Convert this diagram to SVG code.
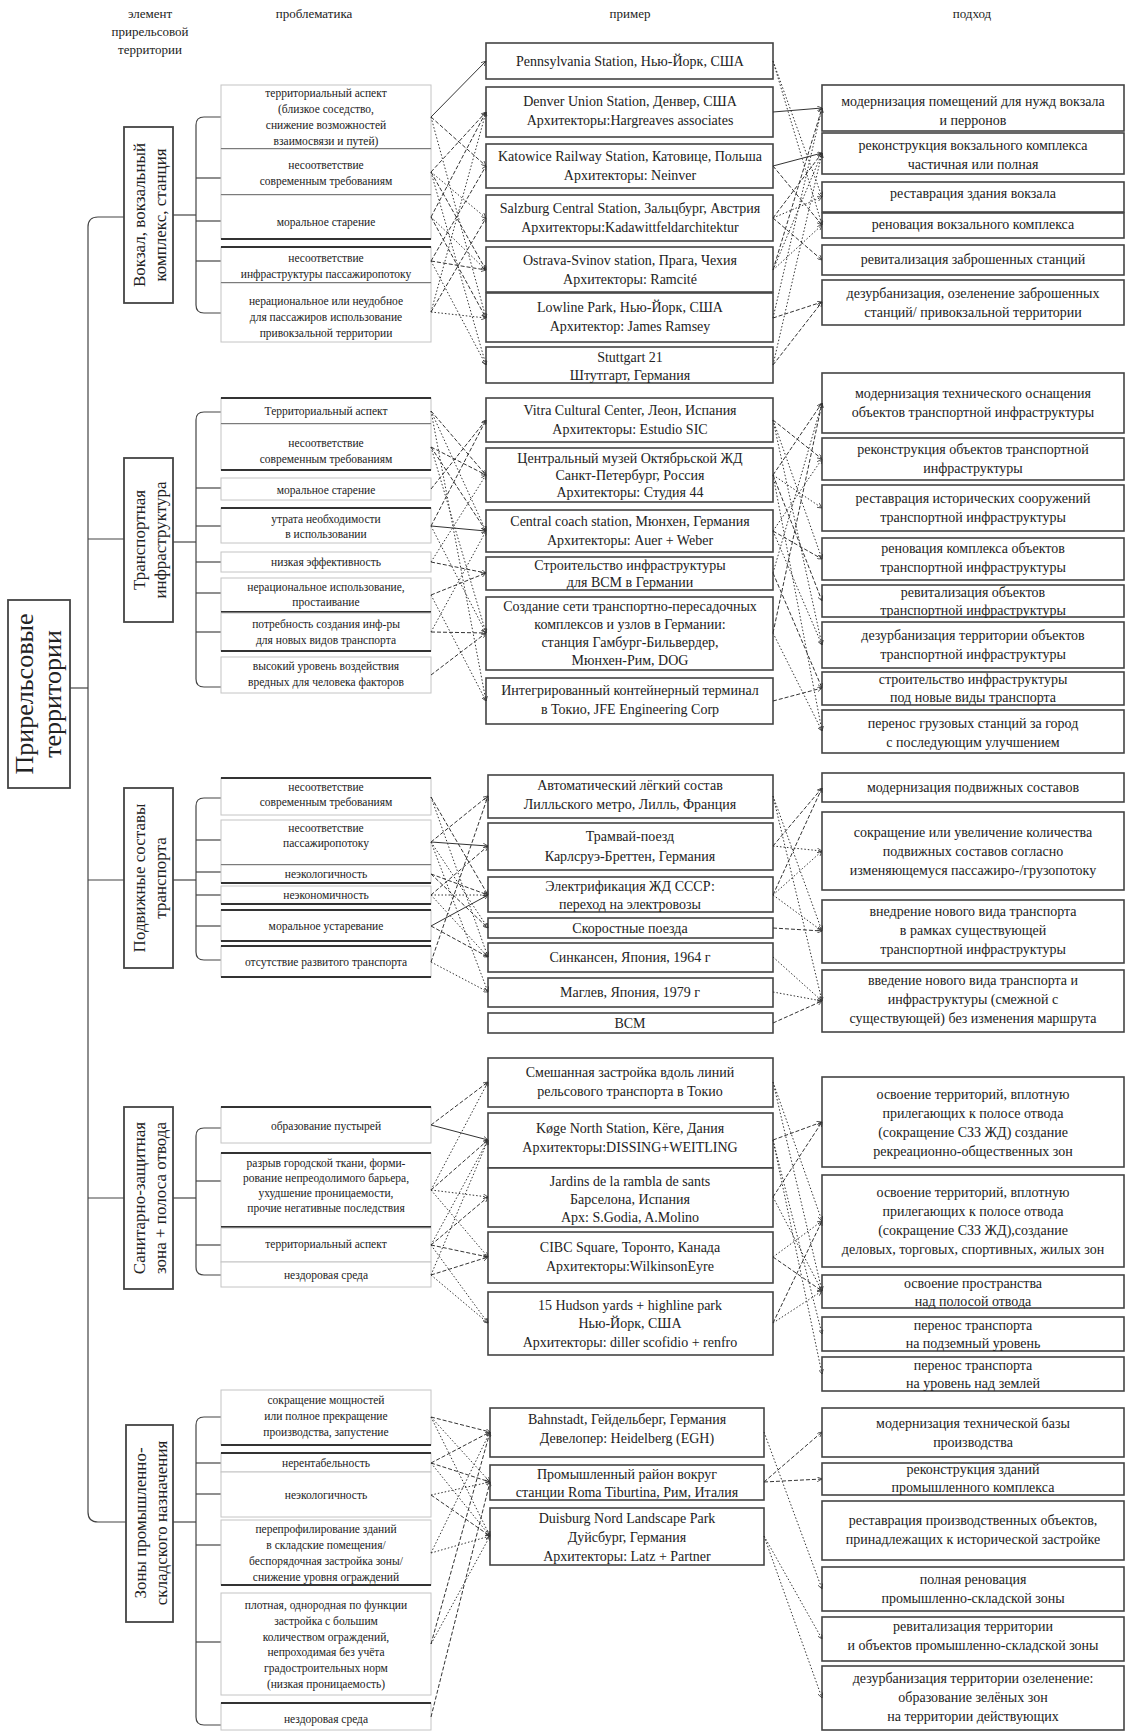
<svg xmlns="http://www.w3.org/2000/svg" width="1128" height="1731" viewBox="0 0 1128 1731">
<style>
text{font-family:"Liberation Serif","DejaVu Serif",serif;fill:#222;text-anchor:middle}
.h{font-size:13px}
.p{font-size:11.5px}
.e{font-size:14px}
.a{font-size:14px}
.cat{font-size:17px}
.ttl{font-size:26px}
.pb{fill:#fff;stroke:#c4c4c4;stroke-width:1}
.sep{stroke:#333;stroke-width:2}
.bx{fill:#fff;stroke:#444;stroke-width:1.6}
.cb{fill:#fff;stroke:#444;stroke-width:1.8}
.br{fill:none;stroke:#444;stroke-width:1.2}
.s{stroke:#333;stroke-width:1;fill:none;marker-end:url(#ar)}
.d{stroke:#333;stroke-width:1;fill:none;stroke-dasharray:4 2;marker-end:url(#ar)}
.o{stroke:#333;stroke-width:1;fill:none;stroke-dasharray:1.5 2;marker-end:url(#ar)}
</style>
<defs>
<marker id="ar" viewBox="0 0 8 8" refX="8" refY="4" markerWidth="5" markerHeight="5" orient="auto">
<path d="M0,0 L8,4 L0,8" fill="none" stroke="#333" stroke-width="1.2"/>
</marker>
</defs>
<rect width="1128" height="1731" fill="#fff"/>

<g id="headers">
<text class="h" x="150" y="18">элемент</text>
<text class="h" x="150" y="36">прирельсовой</text>
<text class="h" x="150" y="54">территории</text>
<text class="h" x="314" y="18">проблематика</text>
<text class="h" x="630" y="18">пример</text>
<text class="h" x="972" y="18">подход</text>
</g>

<g id="title">
<rect class="cb" x="8" y="600" width="62" height="188"/>
<text class="ttl" transform="translate(33,694) rotate(-90)">Прирельсовые</text>
<text class="ttl" transform="translate(61,694) rotate(-90)">территории</text>
</g>

<g id="tree" class="br">
<line x1="70" y1="688" x2="88" y2="688"/>
<path d="M124,217 L98,217 Q88,217 88,227 L88,1512 Q88,1522 98,1522 L126,1522"/>
<line x1="88" y1="539" x2="124" y2="539"/>
<line x1="88" y1="880" x2="124" y2="880"/>
<line x1="88" y1="1198" x2="124" y2="1198"/>
<line x1="173" y1="215" x2="196" y2="215"/>
<path d="M221,117 L204,117 Q196,117 196,125 L196,305 Q196,313 204,313 L221,313"/>
<line x1="196" y1="178" x2="221" y2="178"/>
<line x1="196" y1="221" x2="221" y2="221"/>
<line x1="196" y1="261" x2="221" y2="261"/>
<line x1="173" y1="542" x2="196" y2="542"/>
<path d="M221,412 L204,412 Q196,412 196,420 L196,679 Q196,687 204,687 L221,687"/>
<line x1="196" y1="488" x2="221" y2="488"/>
<line x1="196" y1="526" x2="221" y2="526"/>
<line x1="196" y1="562" x2="221" y2="562"/>
<line x1="196" y1="593" x2="221" y2="593"/>
<line x1="196" y1="632" x2="221" y2="632"/>
<line x1="173" y1="880" x2="196" y2="880"/>
<path d="M221,798 L204,798 Q196,798 196,806 L196,952 Q196,960 204,960 L221,960"/>
<line x1="196" y1="840" x2="221" y2="840"/>
<line x1="196" y1="872" x2="221" y2="872"/>
<line x1="196" y1="895" x2="221" y2="895"/>
<line x1="196" y1="926" x2="221" y2="926"/>
<line x1="173" y1="1198" x2="196" y2="1198"/>
<path d="M221,1128 L204,1128 Q196,1128 196,1136 L196,1267 Q196,1275 204,1275 L221,1275"/>
<line x1="196" y1="1181" x2="221" y2="1181"/>
<line x1="196" y1="1245" x2="221" y2="1245"/>
<line x1="173" y1="1522" x2="196" y2="1522"/>
<path d="M221,1417 L204,1417 Q196,1417 196,1425 L196,1717 Q196,1725 204,1725 L221,1725"/>
<line x1="196" y1="1463" x2="221" y2="1463"/>
<line x1="196" y1="1494" x2="221" y2="1494"/>
<line x1="196" y1="1545" x2="221" y2="1545"/>
<line x1="196" y1="1642" x2="221" y2="1642"/>
</g>

<g id="cat1"><rect class="cb" x="124" y="127" width="49" height="176"/>
<text class="cat" transform="translate(145,215) rotate(-90)">Вокзал, вокзальный</text>
<text class="cat" transform="translate(166,215) rotate(-90)">комплекс, станция</text></g>
<g id="cat2"><rect class="cb" x="124" y="458" width="49" height="164"/>
<text class="cat" transform="translate(145,540) rotate(-90)">Транспортная</text>
<text class="cat" transform="translate(166,540) rotate(-90)">инфраструктура</text></g>
<g id="cat3"><rect class="cb" x="124" y="788" width="49" height="180"/>
<text class="cat" transform="translate(145,878) rotate(-90)">Подвижные составы</text>
<text class="cat" transform="translate(166,878) rotate(-90)">транспорта</text></g>
<g id="cat4"><rect class="cb" x="124" y="1107" width="49" height="182"/>
<text class="cat" transform="translate(145,1198) rotate(-90)">Санитарно-защитная</text>
<text class="cat" transform="translate(166,1198) rotate(-90)">зона + полоса отвода</text></g>
<g id="cat5"><rect class="cb" x="126" y="1425" width="47" height="197"/>
<text class="cat" transform="translate(146,1523) rotate(-90)">Зоны промышленно-</text>
<text class="cat" transform="translate(167,1523) rotate(-90)">складского назначения</text></g>

<g id="p1"><rect class="pb" x="221" y="85" width="210" height="64"/><line class="sep" x1="221" y1="149" x2="431" y2="149"/>
<text class="p" x="326" y="97">территориальный аспект</text><text class="p" x="326" y="113">(близкое соседство,</text><text class="p" x="326" y="129">снижение возможностей</text><text class="p" x="326" y="145">взаимосвязи и путей)</text></g>
<g id="p2"><rect class="pb" x="221" y="149" width="210" height="46"/><line class="sep" x1="221" y1="195" x2="431" y2="195"/>
<text class="p" x="326" y="169">несоответствие</text><text class="p" x="326" y="185">современным требованиям</text></g>
<g id="p3"><rect class="pb" x="221" y="195" width="210" height="44"/><line class="sep" x1="221" y1="239" x2="431" y2="239"/>
<text class="p" x="326" y="226">моральное старение</text></g>
<g id="p4"><rect class="pb" x="221" y="247" width="210" height="36"/><line class="sep" x1="221" y1="247" x2="431" y2="247"/><line class="sep" x1="221" y1="283" x2="431" y2="283"/>
<text class="p" x="326" y="262">несоответствие</text><text class="p" x="326" y="278">инфраструктуры пассажиропотоку</text></g>
<g id="p5"><rect class="pb" x="221" y="283" width="210" height="59"/>
<text class="p" x="326" y="305">нерациональное или неудобное</text><text class="p" x="326" y="321">для пассажиров использование</text><text class="p" x="326" y="337">привокзальной территории</text></g>

<g id="q1"><rect class="pb" x="221" y="398" width="210" height="26"/><line class="sep" x1="221" y1="398" x2="431" y2="398"/><line class="sep" x1="221" y1="424" x2="431" y2="424"/>
<text class="p" x="326" y="415">Территориальный аспект</text></g>
<g id="q2"><rect class="pb" x="221" y="424" width="210" height="46"/><line class="sep" x1="221" y1="470" x2="431" y2="470"/>
<text class="p" x="326" y="447">несоответствие</text><text class="p" x="326" y="463">современным требованиям</text></g>
<g id="q3"><rect class="pb" x="221" y="478" width="210" height="22"/>
<text class="p" x="326" y="494">моральное старение</text></g>
<g id="q4"><rect class="pb" x="221" y="508" width="210" height="35"/><line class="sep" x1="221" y1="508" x2="431" y2="508"/>
<text class="p" x="326" y="523">утрата необходимости</text><text class="p" x="326" y="538">в использовании</text></g>
<g id="q5"><rect class="pb" x="221" y="552" width="210" height="20"/>
<text class="p" x="326" y="566">низкая эффективность</text></g>
<g id="q6"><rect class="pb" x="221" y="578" width="210" height="34"/><line class="sep" x1="221" y1="612" x2="431" y2="612"/>
<text class="p" x="326" y="591">нерациональное использование,</text><text class="p" x="326" y="606">простаивание</text></g>
<g id="q7"><rect class="pb" x="221" y="613" width="210" height="38"/><line class="sep" x1="221" y1="651" x2="431" y2="651"/>
<text class="p" x="326" y="628">потребность создания инф-ры</text><text class="p" x="326" y="644">для новых видов транспорта</text></g>
<g id="q8"><rect class="pb" x="221" y="657" width="210" height="36"/>
<text class="p" x="326" y="670">высокий уровень воздействия</text><text class="p" x="326" y="686">вредных для человека факторов</text></g>

<g id="r1"><rect class="pb" x="221" y="778" width="210" height="37"/><line class="sep" x1="221" y1="778" x2="431" y2="778"/>
<text class="p" x="326" y="791">несоответствие</text><text class="p" x="326" y="806">современным требованиям</text></g>
<g id="r2"><rect class="pb" x="221" y="820" width="210" height="45"/><line class="sep" x1="221" y1="865" x2="431" y2="865"/>
<text class="p" x="326" y="832">несоответствие</text><text class="p" x="326" y="847">пассажиропотоку</text></g>
<g id="r3"><rect class="pb" x="221" y="865" width="210" height="18"/><line class="sep" x1="221" y1="883" x2="431" y2="883"/>
<text class="p" x="326" y="878">неэкологичность</text></g>
<g id="r4"><rect class="pb" x="221" y="886" width="210" height="18"/><line class="sep" x1="221" y1="904" x2="431" y2="904"/>
<text class="p" x="326" y="899">неэкономичность</text></g>
<g id="r5"><rect class="pb" x="221" y="910" width="210" height="31"/><line class="sep" x1="221" y1="910" x2="431" y2="910"/><line class="sep" x1="221" y1="941" x2="431" y2="941"/>
<text class="p" x="326" y="930">моральное устаревание</text></g>
<g id="r6"><rect class="pb" x="221" y="946" width="210" height="31"/><line class="sep" x1="221" y1="946" x2="431" y2="946"/><line class="sep" x1="221" y1="977" x2="431" y2="977"/>
<text class="p" x="326" y="966">отсутствие развитого транспорта</text></g>

<g id="s1"><rect class="pb" x="221" y="1107" width="210" height="36"/><line class="sep" x1="221" y1="1107" x2="431" y2="1107"/>
<text class="p" x="326" y="1130">образование пустырей</text></g>
<g id="s2"><rect class="pb" x="221" y="1153" width="210" height="74"/><line class="sep" x1="221" y1="1153" x2="431" y2="1153"/><line class="sep" x1="221" y1="1227" x2="431" y2="1227"/>
<text class="p" x="326" y="1167">разрыв городской ткани, форми-</text><text class="p" x="326" y="1182">рование непреодолимого барьера,</text><text class="p" x="326" y="1197">ухудшение проницаемости,</text><text class="p" x="326" y="1212">прочие негативные последствия</text></g>
<g id="s3"><rect class="pb" x="221" y="1228" width="210" height="34"/>
<text class="p" x="326" y="1248">территориальный аспект</text></g>
<g id="s4"><rect class="pb" x="221" y="1262" width="210" height="25"/>
<text class="p" x="326" y="1279">нездоровая среда</text></g>

<g id="t1"><rect class="pb" x="221" y="1390" width="210" height="55"/><line class="sep" x1="221" y1="1445" x2="431" y2="1445"/>
<text class="p" x="326" y="1404">сокращение мощностей</text><text class="p" x="326" y="1420">или полное прекращение</text><text class="p" x="326" y="1436">производства, запустение</text></g>
<g id="t2"><rect class="pb" x="221" y="1453" width="210" height="19"/><line class="sep" x1="221" y1="1453" x2="431" y2="1453"/>
<text class="p" x="326" y="1467">нерентабельность</text></g>
<g id="t3"><rect class="pb" x="221" y="1472" width="210" height="45"/>
<text class="p" x="326" y="1499">неэкологичность</text></g>
<g id="t4"><rect class="pb" x="221" y="1520" width="210" height="65"/><line class="sep" x1="221" y1="1585" x2="431" y2="1585"/>
<text class="p" x="326" y="1533">перепрофилирование зданий</text><text class="p" x="326" y="1549">в складские помещения/</text><text class="p" x="326" y="1565">беспорядочная застройка зоны/</text><text class="p" x="326" y="1581">снижение уровня ограждений</text></g>
<g id="t5"><rect class="pb" x="221" y="1593" width="210" height="102"/>
<text class="p" x="326" y="1609">плотная, однородная по функции</text><text class="p" x="326" y="1625">застройка с большим</text><text class="p" x="326" y="1641">количеством ограждений,</text><text class="p" x="326" y="1656">непроходимая без учёта</text><text class="p" x="326" y="1672">градостроительных норм</text><text class="p" x="326" y="1688">(низкая проницаемость)</text></g>
<g id="t6"><rect class="pb" x="221" y="1703" width="210" height="27"/><line class="sep" x1="221" y1="1703" x2="431" y2="1703"/>
<text class="p" x="326" y="1723">нездоровая среда</text></g>

<g id="e1"><rect class="bx" x="486" y="43" width="287" height="36"/><text class="e" x="630" y="66">Pennsylvania Station, Нью-Йорк, США</text></g>
<g id="e2"><rect class="bx" x="486" y="87" width="287" height="50"/><text class="e" x="630" y="106">Denver Union Station, Денвер, США</text><text class="e" x="630" y="125">Архитекторы:Hargreaves associates</text></g>
<g id="e3"><rect class="bx" x="486" y="144" width="287" height="44"/><text class="e" x="630" y="161">Katowice Railway Station, Катовице, Польша</text><text class="e" x="630" y="180">Архитекторы: Neinver</text></g>
<g id="e4"><rect class="bx" x="486" y="195" width="287" height="46"/><text class="e" x="630" y="213">Salzburg Central Station, Зальцбург, Австрия</text><text class="e" x="630" y="232">Архитекторы:Kadawittfeldarchitektur</text></g>
<g id="e5"><rect class="bx" x="486" y="247" width="287" height="45"/><text class="e" x="630" y="265">Ostrava-Svinov station, Прага, Чехия</text><text class="e" x="630" y="284">Архитекторы: Ramcité</text></g>
<g id="e6"><rect class="bx" x="486" y="293" width="287" height="49"/><text class="e" x="630" y="312">Lowline Park, Нью-Йорк, США</text><text class="e" x="630" y="331">Архитектор: James Ramsey</text></g>
<g id="e7"><rect class="bx" x="486" y="347" width="287" height="36"/><text class="e" x="630" y="362">Stuttgart 21</text><text class="e" x="630" y="380">Штутгарт, Германия</text></g>

<g id="f1"><rect class="bx" x="486" y="398" width="287" height="44"/><text class="e" x="630" y="415">Vitra Cultural Center, Леон, Испания</text><text class="e" x="630" y="434">Архитекторы: Estudio SIC</text></g>
<g id="f2"><rect class="bx" x="486" y="448" width="287" height="54"/><text class="e" x="630" y="463">Центральный музей Октябрьской ЖД</text><text class="e" x="630" y="480">Санкт-Петербург, Россия</text><text class="e" x="630" y="497">Архитекторы: Студия 44</text></g>
<g id="f3"><rect class="bx" x="486" y="510" width="287" height="42"/><text class="e" x="630" y="526">Central coach station, Мюнхен, Германия</text><text class="e" x="630" y="545">Архитекторы: Auer + Weber</text></g>
<g id="f4"><rect class="bx" x="486" y="557" width="287" height="33"/><text class="e" x="630" y="570">Строительство инфраструктуры</text><text class="e" x="630" y="587">для ВСМ в Германии</text></g>
<g id="f5"><rect class="bx" x="486" y="597" width="287" height="73"/><text class="e" x="630" y="611">Создание сети транспортно-пересадочных</text><text class="e" x="630" y="629">комплексов и узлов в Германии:</text><text class="e" x="630" y="647">станция Гамбург-Бильвердер,</text><text class="e" x="630" y="665">Мюнхен-Рим, DOG</text></g>
<g id="f6"><rect class="bx" x="486" y="678" width="287" height="46"/><text class="e" x="630" y="695">Интегрированный контейнерный терминал</text><text class="e" x="630" y="714">в Токио, JFE Engineering Corp</text></g>

<g id="g1"><rect class="bx" x="488" y="775" width="285" height="43"/><text class="e" x="630" y="790">Автоматический лёгкий состав</text><text class="e" x="630" y="809">Лилльского метро, Лилль, Франция</text></g>
<g id="g2"><rect class="bx" x="488" y="823" width="285" height="47"/><text class="e" x="630" y="841">Трамвай-поезд</text><text class="e" x="630" y="861">Карлсруэ-Бреттен, Германия</text></g>
<g id="g3"><rect class="bx" x="488" y="877" width="285" height="35"/><text class="e" x="630" y="891">Электрификация ЖД СССР:</text><text class="e" x="630" y="909">переход на электровозы</text></g>
<g id="g4"><rect class="bx" x="488" y="918" width="285" height="20"/><text class="e" x="630" y="933">Скоростные поезда</text></g>
<g id="g5"><rect class="bx" x="488" y="943" width="285" height="29"/><text class="e" x="630" y="962">Синкансен, Япония, 1964 г</text></g>
<g id="g6"><rect class="bx" x="488" y="978" width="285" height="29"/><text class="e" x="630" y="997">Маглев, Япония, 1979 г</text></g>
<g id="g7"><rect class="bx" x="488" y="1013" width="285" height="20"/><text class="e" x="630" y="1028">ВСМ</text></g>

<g id="h1"><rect class="bx" x="488" y="1058" width="285" height="49"/><text class="e" x="630" y="1077">Смешанная застройка вдоль линий</text><text class="e" x="630" y="1096">рельсового транспорта в Токио</text></g>
<g id="h2"><rect class="bx" x="488" y="1113" width="285" height="55"/><text class="e" x="630" y="1133">Køge North Station, Кёге, Дания</text><text class="e" x="630" y="1152">Архитекторы:DISSING+WEITLING</text></g>
<g id="h3"><rect class="bx" x="488" y="1168" width="285" height="59"/><text class="e" x="630" y="1186">Jardins de la rambla de sants</text><text class="e" x="630" y="1204">Барселона, Испания</text><text class="e" x="630" y="1222">Арх: S.Godia, A.Molino</text></g>
<g id="h4"><rect class="bx" x="488" y="1232" width="285" height="51"/><text class="e" x="630" y="1252">CIBC Square, Торонто, Канада</text><text class="e" x="630" y="1271">Архитекторы:WilkinsonEyre</text></g>
<g id="h5"><rect class="bx" x="488" y="1292" width="285" height="63"/><text class="e" x="630" y="1310">15 Hudson yards + highline park</text><text class="e" x="630" y="1328">Нью-Йорк, США</text><text class="e" x="630" y="1347">Архитекторы: diller scofidio + renfro</text></g>

<g id="i1"><rect class="bx" x="490" y="1408" width="274" height="49"/><text class="e" x="627" y="1424">Bahnstadt, Гейдельберг, Германия</text><text class="e" x="627" y="1443">Девелопер: Heidelberg (EGH)</text></g>
<g id="i2"><rect class="bx" x="490" y="1465" width="274" height="35"/><text class="e" x="627" y="1479">Промышленный район вокруг</text><text class="e" x="627" y="1497">станции Roma Tiburtina, Рим, Италия</text></g>
<g id="i3"><rect class="bx" x="490" y="1508" width="274" height="57"/><text class="e" x="627" y="1523">Duisburg Nord Landscape Park</text><text class="e" x="627" y="1542">Дуйсбург, Германия</text><text class="e" x="627" y="1561">Архитекторы: Latz + Partner</text></g>

<g id="a1"><rect class="bx" x="822" y="85" width="302" height="46"/><text class="a" x="973" y="106">модернизация помещений для нужд вокзала</text><text class="a" x="973" y="125">и перронов</text></g>
<g id="a2"><rect class="bx" x="822" y="133" width="302" height="41"/><text class="a" x="973" y="150">реконструкция вокзального комплекса</text><text class="a" x="973" y="169">частичная или полная</text></g>
<g id="a3"><rect class="bx" x="822" y="182" width="302" height="30"/><text class="a" x="973" y="198">реставрация здания вокзала</text></g>
<g id="a4"><rect class="bx" x="822" y="213" width="302" height="25"/><text class="a" x="973" y="229">реновация вокзального комплекса</text></g>
<g id="a5"><rect class="bx" x="822" y="245" width="302" height="30"/><text class="a" x="973" y="264">ревитализация заброшенных станций</text></g>
<g id="a6"><rect class="bx" x="822" y="280" width="302" height="45"/><text class="a" x="973" y="298">дезурбанизация, озеленение заброшенных</text><text class="a" x="973" y="317">станций/ привокзальной территории</text></g>

<g id="b1"><rect class="bx" x="822" y="373" width="302" height="60"/><text class="a" x="973" y="398">модернизация технического оснащения</text><text class="a" x="973" y="417">объектов транспортной инфраструктуры</text></g>
<g id="b2"><rect class="bx" x="822" y="438" width="302" height="42"/><text class="a" x="973" y="454">реконструкция объектов транспортной</text><text class="a" x="973" y="473">инфраструктуры</text></g>
<g id="b3"><rect class="bx" x="822" y="485" width="302" height="46"/><text class="a" x="973" y="503">реставрация исторических сооружений</text><text class="a" x="973" y="522">транспортной инфраструктуры</text></g>
<g id="b4"><rect class="bx" x="822" y="538" width="302" height="42"/><text class="a" x="973" y="553">реновация комплекса объектов</text><text class="a" x="973" y="572">транспортной инфраструктуры</text></g>
<g id="b5"><rect class="bx" x="822" y="585" width="302" height="32"/><text class="a" x="973" y="597">ревитализация объектов</text><text class="a" x="973" y="615">транспортной инфраструктуры</text></g>
<g id="b6"><rect class="bx" x="822" y="622" width="302" height="46"/><text class="a" x="973" y="640">дезурбанизация территории объектов</text><text class="a" x="973" y="659">транспортной инфраструктуры</text></g>
<g id="b7"><rect class="bx" x="822" y="672" width="302" height="33"/><text class="a" x="973" y="684">строительство инфраструктуры</text><text class="a" x="973" y="702">под новые виды транспорта</text></g>
<g id="b8"><rect class="bx" x="822" y="710" width="302" height="43"/><text class="a" x="973" y="728">перенос грузовых станций за город</text><text class="a" x="973" y="747">с последующим улучшением</text></g>

<g id="c1"><rect class="bx" x="822" y="773" width="302" height="29"/><text class="a" x="973" y="792">модернизация подвижных составов</text></g>
<g id="c2"><rect class="bx" x="822" y="812" width="302" height="78"/><text class="a" x="973" y="837">сокращение или увеличение количества</text><text class="a" x="973" y="856">подвижных составов согласно</text><text class="a" x="973" y="875">изменяющемуся пассажиро-/грузопотоку</text></g>
<g id="c3"><rect class="bx" x="822" y="900" width="302" height="63"/><text class="a" x="973" y="916">внедрение нового вида транспорта</text><text class="a" x="973" y="935">в рамках существующей</text><text class="a" x="973" y="954">транспортной инфраструктуры</text></g>
<g id="c4"><rect class="bx" x="822" y="970" width="302" height="62"/><text class="a" x="973" y="985">введение нового вида транспорта и</text><text class="a" x="973" y="1004">инфраструктуры (смежной с</text><text class="a" x="973" y="1023">существующей) без изменения маршрута</text></g>

<g id="d1"><rect class="bx" x="822" y="1077" width="302" height="90"/><text class="a" x="973" y="1099">освоение территорий, вплотную</text><text class="a" x="973" y="1118">прилегающих к полосе отвода</text><text class="a" x="973" y="1137">(сокращение СЗЗ ЖД) создание</text><text class="a" x="973" y="1156">рекреационно-общественных зон</text></g>
<g id="d2"><rect class="bx" x="822" y="1175" width="302" height="92"/><text class="a" x="973" y="1197">освоение территорий, вплотную</text><text class="a" x="973" y="1216">прилегающих к полосе отвода</text><text class="a" x="973" y="1235">(сокращение СЗЗ ЖД),создание</text><text class="a" x="973" y="1254">деловых, торговых, спортивных, жилых зон</text></g>
<g id="d3"><rect class="bx" x="822" y="1275" width="302" height="33"/><text class="a" x="973" y="1288">освоение пространства</text><text class="a" x="973" y="1306">над полосой отвода</text></g>
<g id="d4"><rect class="bx" x="822" y="1317" width="302" height="34"/><text class="a" x="973" y="1330">перенос транспорта</text><text class="a" x="973" y="1348">на подземный уровень</text></g>
<g id="d5"><rect class="bx" x="822" y="1357" width="302" height="34"/><text class="a" x="973" y="1370">перенос транспорта</text><text class="a" x="973" y="1388">на уровень над землей</text></g>

<g id="j1"><rect class="bx" x="822" y="1408" width="302" height="49"/><text class="a" x="973" y="1428">модернизация технической базы</text><text class="a" x="973" y="1447">производства</text></g>
<g id="j2"><rect class="bx" x="822" y="1463" width="302" height="32"/><text class="a" x="973" y="1474">реконструкция зданий</text><text class="a" x="973" y="1492">промышленного комплекса</text></g>
<g id="j3"><rect class="bx" x="822" y="1501" width="302" height="59"/><text class="a" x="973" y="1525">реставрация производственных объектов,</text><text class="a" x="973" y="1544">принадлежащих к исторической застройке</text></g>
<g id="j4"><rect class="bx" x="822" y="1567" width="302" height="44"/><text class="a" x="973" y="1584">полная реновация</text><text class="a" x="973" y="1603">промышленно-складской зоны</text></g>
<g id="j5"><rect class="bx" x="822" y="1617" width="302" height="44"/><text class="a" x="973" y="1631">ревитализация территории</text><text class="a" x="973" y="1650">и объектов промышленно-складской зоны</text></g>
<g id="j6"><rect class="bx" x="822" y="1666" width="302" height="64"/><text class="a" x="973" y="1683">дезурбанизация территории озеленение:</text><text class="a" x="973" y="1702">образование зелёных зон</text><text class="a" x="973" y="1721">на территории действующих</text></g>

<g id="connectors">
<line class="s" x1="431" y1="117" x2="486" y2="61"/>
<line class="d" x1="431" y1="117" x2="486" y2="166"/>
<line class="o" x1="431" y1="117" x2="486" y2="318"/>
<line class="d" x1="431" y1="172" x2="486" y2="112"/>
<line class="o" x1="431" y1="172" x2="486" y2="218"/>
<line class="o" x1="431" y1="172" x2="486" y2="365"/>
<line class="d" x1="431" y1="172" x2="486" y2="270"/>
<line class="d" x1="431" y1="217" x2="486" y2="112"/>
<line class="o" x1="431" y1="217" x2="486" y2="270"/>
<line class="d" x1="431" y1="217" x2="486" y2="318"/>
<line class="d" x1="431" y1="261" x2="486" y2="166"/>
<line class="d" x1="431" y1="261" x2="486" y2="270"/>
<line class="o" x1="431" y1="261" x2="486" y2="365"/>
<line class="d" x1="431" y1="312" x2="486" y2="218"/>
<line class="o" x1="431" y1="312" x2="486" y2="318"/>
<line class="o" x1="431" y1="312" x2="486" y2="112"/>
<line class="s" x1="773" y1="112" x2="822" y2="108"/>
<line class="o" x1="773" y1="61" x2="822" y2="197"/>
<line class="o" x1="773" y1="61" x2="822" y2="225"/>
<line class="s" x1="773" y1="166" x2="822" y2="153"/>
<line class="d" x1="773" y1="166" x2="822" y2="225"/>
<line class="d" x1="773" y1="218" x2="822" y2="153"/>
<line class="o" x1="773" y1="218" x2="822" y2="197"/>
<line class="d" x1="773" y1="218" x2="822" y2="260"/>
<line class="d" x1="773" y1="270" x2="822" y2="108"/>
<line class="o" x1="773" y1="270" x2="822" y2="153"/>
<line class="o" x1="773" y1="270" x2="822" y2="225"/>
<line class="o" x1="773" y1="318" x2="822" y2="108"/>
<line class="d" x1="773" y1="318" x2="822" y2="302"/>
<line class="d" x1="773" y1="365" x2="822" y2="302"/>
<line class="o" x1="773" y1="365" x2="822" y2="153"/>
<line class="d" x1="431" y1="411" x2="486" y2="475"/>
<line class="o" x1="431" y1="411" x2="486" y2="531"/>
<line class="o" x1="431" y1="411" x2="486" y2="701"/>
<line class="d" x1="431" y1="447" x2="486" y2="475"/>
<line class="d" x1="431" y1="447" x2="486" y2="531"/>
<line class="o" x1="431" y1="447" x2="486" y2="633"/>
<line class="d" x1="431" y1="489" x2="486" y2="420"/>
<line class="d" x1="431" y1="526" x2="486" y2="420"/>
<line class="s" x1="431" y1="526" x2="486" y2="531"/>
<line class="o" x1="431" y1="526" x2="486" y2="633"/>
<line class="o" x1="431" y1="562" x2="486" y2="475"/>
<line class="d" x1="431" y1="562" x2="486" y2="573"/>
<line class="o" x1="431" y1="595" x2="486" y2="701"/>
<line class="d" x1="431" y1="595" x2="486" y2="573"/>
<line class="d" x1="431" y1="632" x2="486" y2="633"/>
<line class="o" x1="431" y1="632" x2="486" y2="531"/>
<line class="d" x1="431" y1="675" x2="486" y2="633"/>
<line class="d" x1="773" y1="420" x2="822" y2="459"/>
<line class="o" x1="773" y1="420" x2="822" y2="559"/>
<line class="o" x1="773" y1="420" x2="822" y2="645"/>
<line class="d" x1="773" y1="475" x2="822" y2="403"/>
<line class="o" x1="773" y1="475" x2="822" y2="508"/>
<line class="d" x1="773" y1="475" x2="822" y2="601"/>
<line class="o" x1="773" y1="475" x2="822" y2="731"/>
<line class="d" x1="773" y1="531" x2="822" y2="559"/>
<line class="o" x1="773" y1="531" x2="822" y2="645"/>
<line class="o" x1="773" y1="531" x2="822" y2="459"/>
<line class="o" x1="773" y1="573" x2="822" y2="403"/>
<line class="d" x1="773" y1="573" x2="822" y2="688"/>
<line class="d" x1="773" y1="633" x2="822" y2="403"/>
<line class="o" x1="773" y1="633" x2="822" y2="731"/>
<line class="d" x1="773" y1="701" x2="822" y2="688"/>
<line class="d" x1="431" y1="797" x2="488" y2="895"/>
<line class="o" x1="431" y1="797" x2="488" y2="957"/>
<line class="d" x1="431" y1="842" x2="488" y2="796"/>
<line class="s" x1="431" y1="842" x2="488" y2="846"/>
<line class="o" x1="431" y1="842" x2="488" y2="928"/>
<line class="o" x1="431" y1="842" x2="488" y2="992"/>
<line class="d" x1="431" y1="874" x2="488" y2="895"/>
<line class="d" x1="431" y1="874" x2="488" y2="928"/>
<line class="d" x1="431" y1="895" x2="488" y2="846"/>
<line class="o" x1="431" y1="895" x2="488" y2="895"/>
<line class="o" x1="431" y1="895" x2="488" y2="957"/>
<line class="d" x1="431" y1="926" x2="488" y2="957"/>
<line class="s" x1="431" y1="926" x2="488" y2="895"/>
<line class="d" x1="431" y1="962" x2="488" y2="796"/>
<line class="o" x1="431" y1="962" x2="488" y2="992"/>
<line class="o" x1="773" y1="796" x2="822" y2="931"/>
<line class="o" x1="773" y1="796" x2="822" y2="1001"/>
<line class="o" x1="773" y1="846" x2="822" y2="851"/>
<line class="d" x1="773" y1="846" x2="822" y2="788"/>
<line class="d" x1="773" y1="895" x2="822" y2="788"/>
<line class="o" x1="773" y1="895" x2="822" y2="851"/>
<line class="o" x1="773" y1="895" x2="822" y2="931"/>
<line class="d" x1="773" y1="928" x2="822" y2="931"/>
<line class="o" x1="773" y1="957" x2="822" y2="1001"/>
<line class="o" x1="773" y1="992" x2="822" y2="1001"/>
<line class="d" x1="773" y1="1023" x2="822" y2="1001"/>
<line class="s" x1="431" y1="1125" x2="488" y2="1140"/>
<line class="d" x1="431" y1="1125" x2="488" y2="1082"/>
<line class="d" x1="431" y1="1190" x2="488" y2="1140"/>
<line class="o" x1="431" y1="1190" x2="488" y2="1197"/>
<line class="o" x1="431" y1="1190" x2="488" y2="1257"/>
<line class="o" x1="431" y1="1190" x2="488" y2="1082"/>
<line class="d" x1="431" y1="1245" x2="488" y2="1197"/>
<line class="d" x1="431" y1="1245" x2="488" y2="1257"/>
<line class="o" x1="431" y1="1245" x2="488" y2="1323"/>
<line class="o" x1="431" y1="1245" x2="488" y2="1140"/>
<line class="d" x1="431" y1="1275" x2="488" y2="1257"/>
<line class="o" x1="431" y1="1275" x2="488" y2="1323"/>
<line class="o" x1="431" y1="1275" x2="488" y2="1140"/>
<line class="o" x1="773" y1="1082" x2="822" y2="1221"/>
<line class="o" x1="773" y1="1082" x2="822" y2="1291"/>
<line class="d" x1="773" y1="1140" x2="822" y2="1122"/>
<line class="o" x1="773" y1="1140" x2="822" y2="1334"/>
<line class="o" x1="773" y1="1140" x2="822" y2="1374"/>
<line class="d" x1="773" y1="1197" x2="822" y2="1122"/>
<line class="o" x1="773" y1="1197" x2="822" y2="1291"/>
<line class="o" x1="773" y1="1257" x2="822" y2="1221"/>
<line class="d" x1="773" y1="1257" x2="822" y2="1291"/>
<line class="d" x1="773" y1="1323" x2="822" y2="1221"/>
<line class="o" x1="773" y1="1323" x2="822" y2="1291"/>
<line class="d" x1="431" y1="1417" x2="490" y2="1432"/>
<line class="o" x1="431" y1="1417" x2="490" y2="1482"/>
<line class="o" x1="431" y1="1417" x2="490" y2="1536"/>
<line class="d" x1="431" y1="1463" x2="490" y2="1432"/>
<line class="d" x1="431" y1="1463" x2="490" y2="1482"/>
<line class="o" x1="431" y1="1463" x2="490" y2="1536"/>
<line class="d" x1="431" y1="1495" x2="490" y2="1536"/>
<line class="o" x1="431" y1="1495" x2="490" y2="1482"/>
<line class="o" x1="431" y1="1553" x2="490" y2="1432"/>
<line class="o" x1="431" y1="1553" x2="490" y2="1536"/>
<line class="d" x1="431" y1="1644" x2="490" y2="1432"/>
<line class="o" x1="431" y1="1644" x2="490" y2="1536"/>
<line class="d" x1="431" y1="1717" x2="490" y2="1482"/>
<line class="o" x1="764" y1="1432" x2="822" y2="1589"/>
<line class="d" x1="764" y1="1482" x2="822" y2="1432"/>
<line class="d" x1="764" y1="1482" x2="822" y2="1479"/>
<line class="o" x1="764" y1="1536" x2="822" y2="1639"/>
<line class="o" x1="764" y1="1536" x2="822" y2="1698"/>
</g>
</svg>
